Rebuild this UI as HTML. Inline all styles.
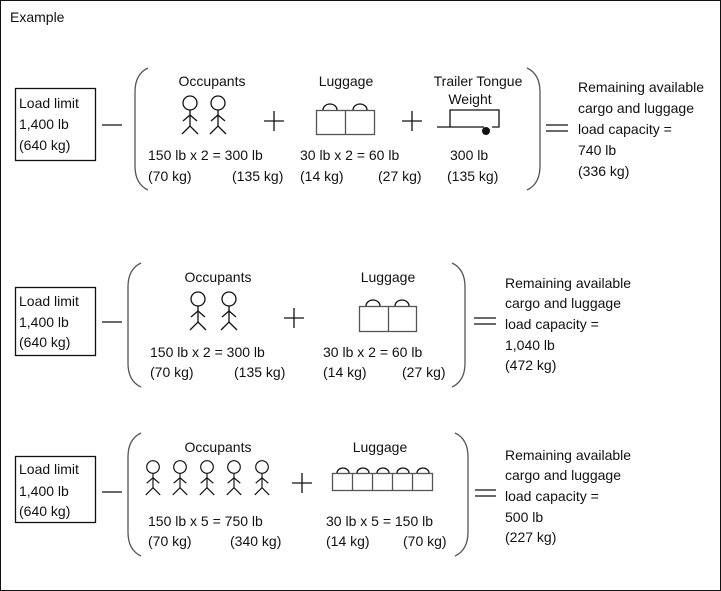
<!DOCTYPE html>
<html><head><meta charset="utf-8"><style>
html,body{margin:0;padding:0;background:#fff}
svg{display:block}
text{font-family:"Liberation Sans",Arial,sans-serif;font-size:14px;fill:#111}
.s{stroke:#111;stroke-width:1.3;fill:none}
.g{stroke:#555;stroke-width:1.3;fill:none}
</style></head><body>
<svg width="721" height="591" viewBox="0 0 721 591" xmlns="http://www.w3.org/2000/svg">
<defs>
<g id="p" class="s"><circle cx="0" cy="0" r="7" fill="#fff"/><line x1="0" y1="7" x2="0" y2="23"/><polyline points="-7,18 0,12 7,18"/><polyline points="-8,31 0,23 8,31"/></g>
</defs>
<rect x="0.5" y="0.5" width="720" height="590" fill="none" stroke="#111" stroke-width="1"/>
<text x="10" y="22">Example</text>

<!-- Section 1 -->
<rect x="15.5" y="88.5" width="80" height="72" class="s"/>
<text x="19" y="108">Load limit</text><text x="19" y="129">1,400 lb</text><text x="19" y="150">(640 kg)</text>
<line x1="102" y1="125" x2="122" y2="125" class="s"/>
<path d="M148,68 Q135,74 135,92 L135,166 Q135,184 148,190" class="g"/>
<text x="212" y="86" text-anchor="middle">Occupants</text>
<use href="#p" x="190" y="103"/><use href="#p" x="218" y="103"/>
<path d="M264,121 H284 M274,111 V131" class="s"/>
<text x="346" y="86" text-anchor="middle">Luggage</text>
<rect x="316.5" y="110.5" width="58" height="24" class="g"/><line x1="345.5" y1="110" x2="345.5" y2="134" class="g"/>
<path d="M323,110 A7,6 0 0 1 337,110 M353,110 A7,6 0 0 1 367,110" class="s"/>
<path d="M402,121 H422 M412,111 V131" class="s"/>
<text x="478" y="86" text-anchor="middle">Trailer Tongue</text><text x="470" y="104" text-anchor="middle">Weight</text>
<path d="M437,127 H484 M450,127 V110 H499 V127 H492" class="s"/><circle cx="486" cy="131" r="4" fill="#111"/>
<text x="148" y="160">150 lb x 2 = 300 lb</text><text x="148" y="181">(70 kg)</text><text x="232" y="181">(135 kg)</text>
<text x="300" y="160">30 lb  x 2 = 60 lb</text><text x="300" y="181">(14 kg)</text><text x="378" y="181">(27 kg)</text>
<text x="450" y="160">300 lb</text><text x="447" y="181">(135 kg)</text>
<path d="M527,68 Q540,74 540,92 L540,166 Q540,184 527,190" class="g"/>
<path d="M546,125 H568 M546,131 H568" class="s"/>
<text x="578" y="92">Remaining available</text><text x="578" y="113">cargo and luggage</text><text x="578" y="134">load capacity =</text><text x="578" y="155">740 lb</text><text x="578" y="176">(336 kg)</text>

<!-- Section 2 -->
<rect x="15.5" y="287.5" width="80" height="68" class="s"/>
<text x="19" y="306">Load limit</text><text x="19" y="327">1,400 lb</text><text x="19" y="347">(640 kg)</text>
<line x1="102" y1="322" x2="122" y2="322" class="s"/>
<path d="M141,263 Q128,269 128,287 L128,363 Q128,381 141,387" class="g"/>
<text x="218" y="282" text-anchor="middle">Occupants</text>
<use href="#p" x="198" y="299"/><use href="#p" x="229" y="299"/>
<path d="M284,318 H304 M294,308 V328" class="s"/>
<text x="388" y="282" text-anchor="middle">Luggage</text>
<rect x="359.5" y="306.5" width="57" height="25" class="g"/><line x1="388.5" y1="306" x2="388.5" y2="331" class="g"/>
<path d="M366,306 A7,6 0 0 1 380,306 M395,306 A7,6 0 0 1 409,306" class="s"/>
<text x="150" y="357">150 lb x 2 = 300 lb</text><text x="150" y="377">(70 kg)</text><text x="234" y="377">(135 kg)</text>
<text x="323" y="357">30 lb  x 2 = 60 lb</text><text x="323" y="377">(14 kg)</text><text x="402" y="377">(27 kg)</text>
<path d="M452,263 Q465,269 465,287 L465,363 Q465,381 452,387" class="g"/>
<path d="M474,318 H496 M474,324 H496" class="s"/>
<text x="505" y="288">Remaining available</text><text x="505" y="308">cargo and luggage</text><text x="505" y="329">load capacity =</text><text x="505" y="350">1,040 lb</text><text x="505" y="370">(472 kg)</text>

<!-- Section 3 -->
<rect x="15.5" y="456.5" width="80" height="66" class="s"/>
<text x="19" y="474">Load limit</text><text x="19" y="496">1,400 lb</text><text x="19" y="516">(640 kg)</text>
<line x1="102" y1="492" x2="122" y2="492" class="s"/>
<path d="M141,433 Q128,439 128,457 L128,532 Q128,550 141,556" class="g"/>
<text x="218" y="452" text-anchor="middle">Occupants</text>
<g transform="translate(0,0)">
<use href="#p" transform="translate(153,467) scale(0.9)"/><use href="#p" transform="translate(180,467) scale(0.9)"/><use href="#p" transform="translate(207,467) scale(0.9)"/><use href="#p" transform="translate(234,467) scale(0.9)"/><use href="#p" transform="translate(262,467) scale(0.9)"/>
</g>
<path d="M292,483 H312 M302,473 V493" class="s"/>
<text x="380" y="452" text-anchor="middle">Luggage</text>
<rect x="332.5" y="473.5" width="100" height="17" class="g"/>
<path d="M352.5,473 V490 M372.5,473 V490 M392.5,473 V490 M412.5,473 V490" class="g"/>
<path d="M337,473 A6,5 0 0 1 349,473 M357,473 A6,5 0 0 1 369,473 M377,473 A6,5 0 0 1 389,473 M397,473 A6,5 0 0 1 409,473 M417,473 A6,5 0 0 1 429,473" class="s"/>
<text x="148" y="526">150 lb x 5 = 750 lb</text><text x="148" y="546">(70 kg)</text><text x="230" y="546">(340 kg)</text>
<text x="326" y="526">30 lb x 5 = 150 lb</text><text x="326" y="546">(14 kg)</text><text x="403" y="546">(70 kg)</text>
<path d="M455,433 Q468,439 468,457 L468,532 Q468,550 455,556" class="g"/>
<path d="M475,490 H496 M475,496 H496" class="s"/>
<text x="505" y="460">Remaining available</text><text x="505" y="480">cargo and luggage</text><text x="505" y="501">load capacity =</text><text x="505" y="522">500 lb</text><text x="505" y="542">(227 kg)</text>
</svg>
</body></html>
